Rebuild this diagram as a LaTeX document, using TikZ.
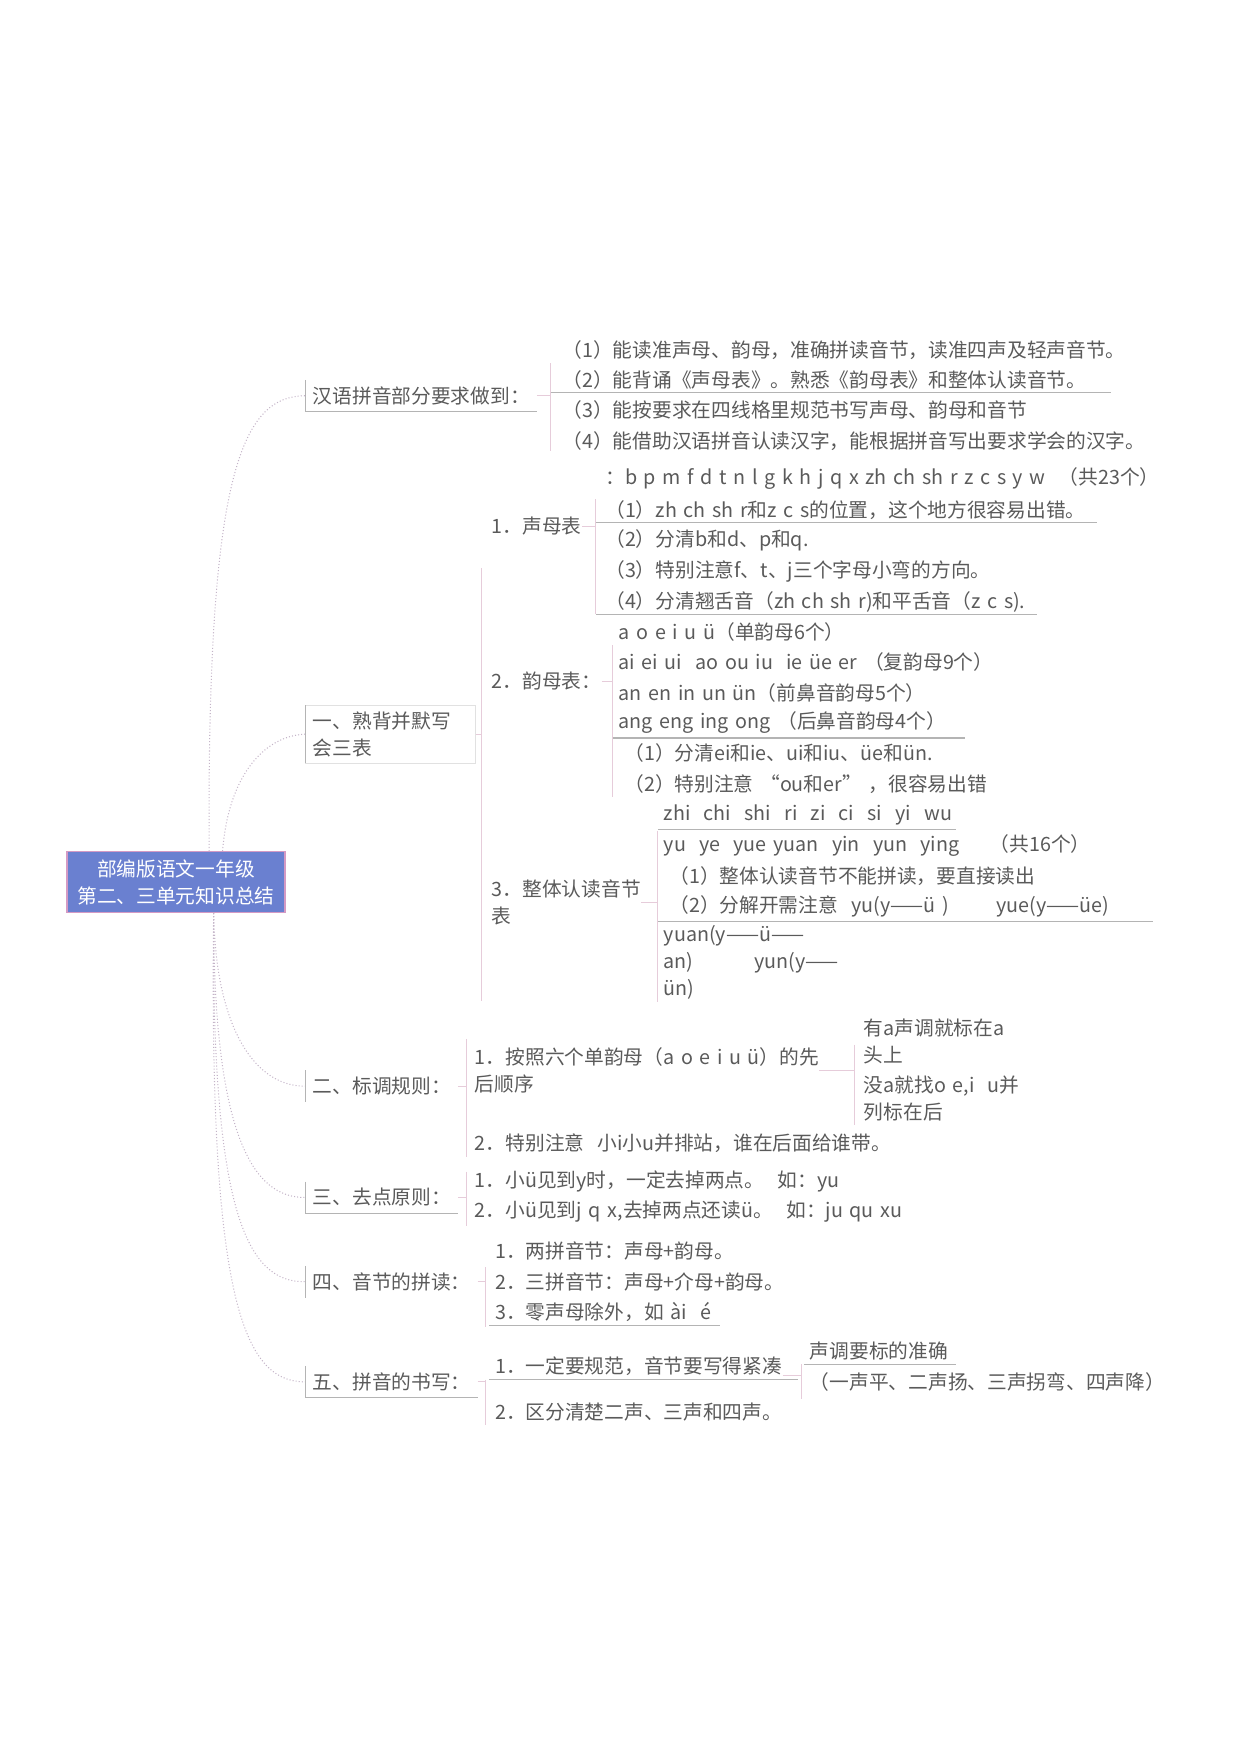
\documentclass[tikz,border=0pt]{standalone}
\usepackage{fontspec}
\setmainfont[WordSpace=1.5]{Noto Sans CJK SC}
\definecolor{txtgray}{HTML}{5A5A5A}
\definecolor{linegray}{HTML}{B4B4B4}
\definecolor{pinkline}{HTML}{E6CCDA}
\definecolor{linkcol}{HTML}{C4B4C8}
\definecolor{rootfill}{HTML}{6A80D0}
\definecolor{rootdraw}{HTML}{D49AC4}
\tikzset{
	txt/.style={anchor=west, inner sep=0pt, align=left, text=txtgray, yshift=1.1pt},
	branch/.style={anchor=west, inner xsep=3.2pt, inner ysep=3pt, align=left, text=txtgray, yshift=1.1pt},
	rootbox/.style={fill=rootfill, draw=rootdraw, line width=0.6pt, text=white, align=center,
		minimum width=105pt, minimum height=29.6pt, inner sep=0pt},
	bar/.style={draw=linegray, line width=0.5pt},
	brace/.style={draw=pinkline, line width=0.5pt},
	link/.style={draw=linkcol, densely dotted, line width=0.5pt},
	uline/.style={draw=linegray, line width=0.5pt}
}
\begin{document}
\begin{tikzpicture}[x=0.19039mm, y=-0.19039mm, font=\fontsize{9.5}{13}\selectfont]
	\useasboundingbox (0,0) rectangle (1103,1560);
	\node (root) at (156.5,784.5) [rootbox] {部编版语文一年级\\第二、三单元知识总结};
	\coordinate (rtop) at (186,757);
	\coordinate (rtop2) at (198,757);
	\coordinate (rbot) at (190,812);

	\node (A)  at (272, 354)	[branch]	{汉语拼音部分要求做到：};
	\node (B1) at (272, 655)	[branch, text width=75pt]	{一、熟背并默写\\会三表};
	\node (B2) at (272, 968)	[branch]	{二、标调规则：};
	\node (B3) at (272,1067)	[branch]	{三、去点原则：};
	\node (B4) at (272,1142)	[branch]	{四、音节的拼读：};
	\node (B5) at (272,1231)	[branch]	{五、拼音的书写：};

	\draw[link] (rtop) .. controls (184,420) and (215,352) .. (A.west);
	\draw[link] (rtop2) .. controls (203,690) and (235,654) .. (B1.west);
	\draw[link] (rbot) .. controls (192,920) and (230,967) .. (B2.west);
	\draw[link] (rbot) .. controls (190,1010) and (225,1066) .. (B3.west);
	\draw[link] (rbot) .. controls (188,1080) and (220,1141) .. (B4.west);
	\draw[link] (rbot) .. controls (186,1150) and (215,1230) .. (B5.west);

	\draw[bar] (A.north west) -- (A.south west) -- (A.south east);
	\draw[draw=linegray!40, line width=0.4pt] (B1.south west) rectangle (B1.north east);
	\draw[bar] (B1.north west) -- (B1.south west);
	\draw[bar] (B2.north west) -- (B2.south west);
	\draw[bar] (B3.north west) -- (B3.south west) -- (B3.south east);
	\draw[bar] (B4.north west) -- (B4.south west);
	\draw[bar] (B5.north west) -- (B5.south west) -- (B5.south east);

	\node (A1) at (500,313)	[txt]	{（1）能读准声母、韵母，准确拼读音节，读准四声及轻声音节。};
	\node (A2) at (500,340)	[txt]	{（2）能背诵《声母表》。熟悉《韵母表》和整体认读音节。};
	\node (A3) at (500,367)	[txt]	{（3）能按要求在四线格里规范书写声母、韵母和音节};
	\node (A4) at (500,394)	[txt]	{（4）能借助汉语拼音认读汉字，能根据拼音写出要求学会的汉字。};
	\draw[brace] (A.east) -- (A.east -| 490,0);
	\draw[brace] (490,323) -- (490,401);
	\draw[uline] ([xshift=-5.4pt,yshift=-1.2pt]A2.south west) -- ++(498,0);

	\node (S)  at (437,470)	[txt]	{1．声母表};
	\node (Y)  at (437,608)	[txt]	{2．韵母表：};
	\node (Z)  at (437,805)	[txt]	{3．整体认读音节\\表};
	\draw[brace] (B1.east) -- (B1.east -| 428,0);
	\draw[brace] (428,505) -- (428,890);

	\node (S0) at (538,428)	[txt]	{：b p m f d t n l g k h j q x zh ch sh r z c s y w ~（共23个）};
	\node (S1) at (538,456)	[txt]	{（1）zh ch sh r和z c s的位置，这个地方很容易出错。};
	\node (S2) at (538,483)	[txt]	{（2）分清b和d、p和q.};
	\node (S3) at (538,510)	[txt]	{（3）特别注意f、t、j三个字母小弯的方向。};
	\node (S4) at (538,537)	[txt]	{（4）分清翘舌音（zh ch sh r)和平舌音（z c s).};
	\draw[brace] (S.east) -- (S.east -| 530,0);
	\draw[brace] (530,444) -- (530,546);
	\draw[uline] ([xshift=-4.3pt,yshift=-1.2pt]S1.south west) -- ++(446,0);
	\draw[uline] ([xshift=-4.3pt,yshift=-1.2pt]S4.south west) -- ++(392,0);

	\node (Y0) at (550,564)	[txt]	{a o e i u ü（单韵母6个）};
	\node (Y1) at (550,591)	[txt]	{ai ei ui ~ao ou iu ~ie üe er （复韵母9个）};
	\node (Y2) at (550,618)	[txt]	{an en in un ün（前鼻音韵母5个）};
	\node (Y3) at (550,645)	[txt]	{ang eng ing ong （后鼻音韵母4个）};
	\node (Y4) at (555,672)	[txt]	{（1）分清ei和ie、ui和iu、üe和ün.};
	\node (Y5) at (555,699)	[txt]	{（2）特别注意 “ou和er” ，很容易出错};
	\draw[brace] (Y.east) -- (Y.east -| 545,0);
	\draw[brace] (545,574) -- (545,709);
	\draw[uline] ([xshift=-2.7pt,yshift=-1.8pt]Y3.south west) -- ++(313,0);

	\node (Z0) at (590,727)	[txt]	{zhi ~chi ~shi ~ri ~zi ~ci ~si ~yi ~wu};
	\node (Z1) at (590,754)	[txt]	{yu ~ye ~yue yuan ~yin ~yun ~ying \hspace{1.2em}（共16个）};
	\node (Z2) at (595,781)	[txt]	{（1）整体认读音节不能拼读，要直接读出};
	\node (Z3) at (595,808)	[txt]	{（2）分解开需注意 ~yu(y——ü )\hspace{2.4em}yue(y——üe)};
	\node (Z4) at (590,858)	[txt]	{yuan(y——ü——\\an)\hspace{3.1em}yun(y——\\ün)};
	\draw[brace] (Z.east) -- (Z.east -| 585,0);
	\draw[brace] (585,739) -- (585,891);
	\draw[uline] ([xshift=-2.7pt,yshift=-1.8pt]Z0.south west) -- ++(265,0);
	\draw[uline] ([xshift=-5.4pt,yshift=-1.8pt]Z3.south west) -- ++(440,0);

	\node (T1)  at (422,954)	[txt]	{1．按照六个单韵母（a o e i u ü）的先\\后顺序};
	\node (T1a) at (768,928)	[txt]	{有a声调就标在a\\头上};
	\node (T1b) at (768,979)	[txt]	{没a就找o e,i ~u并\\列标在后};
	\node (T2)  at (422,1019)	[txt]	{2．特别注意 ~小i小u并排站，谁在后面给谁带。};
	\draw[brace] (B2.east) -- (B2.east -| 415,0);
	\draw[brace] (415,924) -- (415,1029);
	\draw[brace] (T1.east) -- (T1.east -| 760,0);
	\draw[brace] (760,929) -- (760,1001);

	\node (C1) at (422,1053)	[txt]	{1．小ü见到y时，一定去掉两点。 ~如：yu};
	\node (C2) at (422,1080)	[txt]	{2．小ü见到j q x,去掉两点还读ü。 ~如：ju qu xu};
	\draw[brace] (B3.east) -- (B3.east -| 415,0);
	\draw[brace] (415,1042) -- (415,1090);

	\node (D1) at (440,1115)	[txt]	{1．两拼音节：声母+韵母。};
	\node (D2) at (440,1142)	[txt]	{2．三拼音节：声母+介母+韵母。};
	\node (D3) at (440,1169)	[txt]	{3．零声母除外，如 ài ~é};
	\draw[brace] (B4.east) -- (B4.east -| 432,0);
	\draw[brace] (432,1127) -- (432,1180);
	\draw[uline] ([xshift=-2.7pt,yshift=-1.8pt]D3.south west) -- ++(205,0);

	\node (E1)  at (440,1217)	[txt]	{1．一定要规范，音节要写得紧凑};
	\node (E1a) at (720,1204)	[txt]	{声调要标的准确};
	\node (E1b) at (720,1231)	[txt]	{（一声平、二声扬、三声拐弯、四声降）};
	\node (E2)  at (440,1258)	[txt]	{2．区分清楚二声、三声和四声。};
	\draw[brace] (B5.east) -- (B5.east -| 432,0);
	\draw[brace] (432,1227) -- (432,1267);
	\draw[uline] ([xshift=-2.7pt,yshift=-1.8pt]E1.south west) -- ++(275,0);
	\draw[uline] ([xshift=-2.7pt,yshift=-1.8pt]E1a.south west) -- ++(135,0);
	\draw[brace] (E1.south east) -- (E1.south east -| 713,0);
	\draw[brace] (713,1213) -- (713,1244);
\end{tikzpicture}
\end{document}
